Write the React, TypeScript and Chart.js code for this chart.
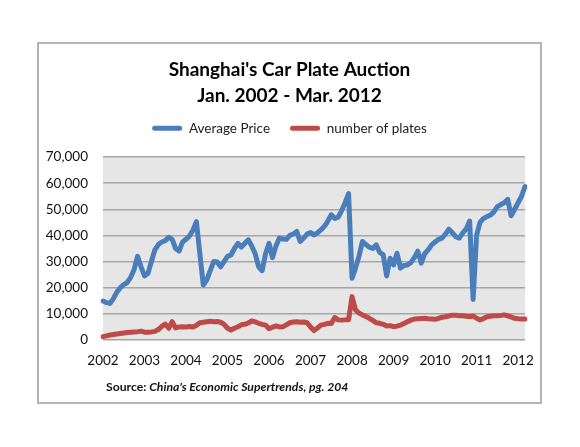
import React, { useEffect, useRef } from "react";
import { Chart, registerables } from "chart.js";

Chart.register(...registerables);

const yearLabels = ["2002", "2003", "2004", "2005", "2006", "2007", "2008", "2009", "2010", "2011", "2012"];
const monthNames = ["Jan", "Feb", "Mar", "Apr", "May", "Jun", "Jul", "Aug", "Sep", "Oct", "Nov", "Dec"];

// Jan 2002 .. Mar 2012 (123 months)
const averagePrice = [
  14900, 14300, 14000, 15800, 18300, 20000, 21200, 22000, 24000, 27000, 32000, 28000,
  24500, 25500, 30000, 34500, 36500, 37500, 38000, 39300, 38500, 35000, 34000, 37500,
  38500, 39800, 42000, 45300, 33000, 21000, 23000, 26500, 30000, 29800, 28000, 30000,
  32000, 32500, 35000, 37000, 35500, 37000, 38300, 36000, 33000, 28000, 26500, 33000,
  37000, 31500, 36000, 39000, 38600, 38500, 40000, 40500, 41500, 37700, 39000, 40500,
  41100, 40200, 41000, 42100, 43500, 45500, 47900, 46500, 47000, 49500, 52500, 56000,
  23600, 27500, 32000, 37700, 36500, 35500, 35000, 36400, 33500, 32600, 24500, 31300,
  28700, 33200, 27500, 28500, 28700, 29600, 31500, 34000, 29400, 33000, 34500, 36400,
  37500, 38500, 39000, 40500, 42400, 41000, 39500, 39000, 41000, 42500, 45500, 15500,
  40000, 45000, 46500, 47200, 47800, 49000, 51000, 51800, 52500, 53800, 47500, 50000,
  52500, 55000, 58700,
];

const numberOfPlates = [
  1300, 1600, 1900, 2100, 2300, 2500, 2700, 2900, 3000, 3100, 3200, 3400,
  3000, 3000, 3100, 3300, 4000, 5200, 6100, 4500, 7000, 4600, 5000, 5100,
  5000, 5200, 5000, 5600, 6600, 6800, 7000, 7200, 7000, 7100, 6800, 6000,
  4500, 3800, 4500, 5100, 5800, 6000, 6500, 7300, 6900, 6400, 6000, 5700,
  4300, 4900, 5400, 5000, 5100, 5800, 6600, 6900, 7000, 6800, 6900, 6600,
  5000, 3600, 4600, 5700, 6000, 6400, 6300, 8600, 7700, 7600, 7700, 7700,
  16600, 11500, 10300, 9600, 9000, 8300, 7500, 6600, 6400, 6000, 5400, 5500,
  5100, 5300, 5700, 6300, 7000, 7600, 8000, 8100, 8200, 8300, 8100, 8000,
  7900, 8300, 8700, 8900, 9200, 9500, 9500, 9300, 9300, 9100, 8900, 9200,
  8300, 7700, 8200, 8900, 9100, 9300, 9300, 9400, 9600, 9200, 8800, 8300,
  8100, 8000, 8000,
];

const categories: string[] = [];
yearLabels.forEach((y) => monthNames.forEach((m) => categories.push(m + " " + y)));
categories.length = averagePrice.length;

const FONT = "Lato, 'DejaVu Sans', sans-serif";

export default function App() {
  const ref = useRef<HTMLCanvasElement | null>(null);

  useEffect(() => {
    if (!ref.current) return;
    const bgPlugin = {
      id: "plotBg",
      beforeInit(chart: any) {
        const lg = chart.legend;
        if (lg) {
          const fit = lg.fit;
          lg.fit = function () {
            fit.call(this);
            this.height += 12;
          };
        }
      },
      beforeDraw(chart: any) {
        const { ctx, chartArea } = chart;
        ctx.save();
        ctx.fillStyle = "#e6e6e6";
        ctx.fillRect(chartArea.left, chartArea.top, chartArea.right - chartArea.left, chartArea.bottom - chartArea.top);
        ctx.restore();
      },
    };
    const chart = new Chart(ref.current, {
      type: "line",
      data: {
        labels: categories,
        datasets: [
          {
            label: "Average Price",
            data: averagePrice,
            borderColor: "#4a7ebb",
            backgroundColor: "#4a7ebb",
            borderWidth: 5,
            pointRadius: 0,
            tension: 0,
            borderJoinStyle: "round",
            borderCapStyle: "round",
          },
          {
            label: "number of plates",
            data: numberOfPlates,
            borderColor: "#be4b48",
            backgroundColor: "#be4b48",
            borderWidth: 5,
            pointRadius: 0,
            tension: 0,
            borderJoinStyle: "round",
            borderCapStyle: "round",
          },
        ],
      },
      options: {
        responsive: false,
        animation: false,
        layout: { padding: { left: 15, right: 15, top: 0, bottom: 32 } },
        plugins: {
          title: {
            display: true,
            text: ["Shanghai's Car Plate Auction", "Jan. 2002 - Mar. 2012"],
            color: "#000",
            font: { family: FONT, size: 19, weight: "bold", lineHeight: 26 / 19 },
            padding: { top: 13, bottom: -7.5 },
          },
          legend: {
            display: true,
            labels: {
              color: "#222",
              font: { family: FONT, size: 13.5 },
              boxWidth: 30,
              boxHeight: 5,
              padding: 20,
              useBorderRadius: true,
              borderRadius: 2.5,
              generateLabels(chart: any) {
                const items = Chart.defaults.plugins.legend.labels.generateLabels(chart);
                items.forEach((it: any) => {
                  it.lineWidth = 0;
                });
                return items;
              },
            },
          },
          tooltip: { enabled: false },
        },
        scales: {
          x: {
            type: "category",
            grid: { display: false, drawTicks: false },
            border: { display: false },
            afterFit(scale: any) {
              scale.height = 30;
            },
            ticks: {
              autoSkip: false,
              maxRotation: 0,
              minRotation: 0,
              padding: 13,
              color: "#111",
              font: { family: FONT, size: 13.5 },
              callback(_v: any, i: number) {
                return i % 12 === 0 ? yearLabels[i / 12] : "";
              },
            },
          },
          y: {
            min: 0,
            max: 70000,
            grid: { color: "#a6a6a6", lineWidth: 1.5, drawTicks: false },
            border: { display: false },
            afterFit(scale: any) {
              scale.width = 49;
              scale._computeLabelArea = () => undefined;
            },
            ticks: {
              stepSize: 10000,
              padding: 15,
              color: "#111",
              font: { family: FONT, size: 13.5 },
              callback(v: any) {
                return Number(v).toLocaleString("en-US");
              },
            },
          },
        },
      },
      plugins: [bgPlugin],
    } as any);
    return () => chart.destroy();
  }, []);

  return (
    <div>
      <div
        style={{
          position: "absolute",
          left: 37,
          top: 42,
          width: 505,
          height: 362,
          boxSizing: "border-box",
          border: "2px solid #b4b4b4",
          background: "#fff",
        }}
      >
        <canvas ref={ref} width={501} height={358} style={{ display: "block" }} />
      </div>
      <div
        style={{
          position: "absolute",
          left: 106,
          top: 380,
          fontFamily: FONT,
          fontSize: 12.2,
          fontWeight: "bold",
          lineHeight: "14px",
          color: "#111",
          whiteSpace: "nowrap",
        }}
      >
        Source: <i>China's Economic Supertrends, pg. 204</i>
      </div>
    </div>
  );
}
